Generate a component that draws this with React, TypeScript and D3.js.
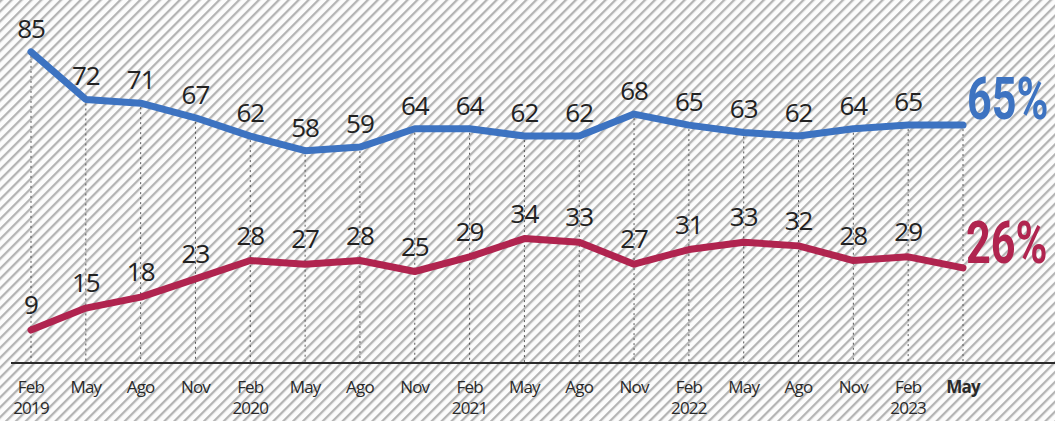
import React from "react";
import * as d3 from "d3";

const months = ["Feb","May","Ago","Nov","Feb","May","Ago","Nov","Feb","May","Ago","Nov","Feb","May","Ago","Nov","Feb","May"];
const years = ["2019","","","","2020","","","","2021","","","","2022","","","","2023",""];
const blueValues = [85,72,71,67,62,58,59,64,64,62,62,68,65,63,62,64,65,65];
const redValues = [9,15,18,23,28,27,28,25,29,34,33,27,31,33,32,28,29,26];
const blueEnd = "65%";
const redEnd = "26%";

const W = 1055, H = 421;
const BLUE = "#3d73c1";
const RED = "#b0244f";

export default function App() {
  const x = d3.scalePoint<number>().domain(d3.range(months.length)).range([31, 963]);
  const y = d3.scaleLinear().domain([0, 100]).range([363, -3]);
  const line = d3.line<number>().x((_, i) => x(i)!).y(d => y(d)).curve(d3.curveLinear);
  const idx = d3.range(months.length);
  const last = months.length - 1;
  return (
    <svg width={W} height={H} style={{ position: "absolute", left: 0, top: 0, display: "block" }}>
      <defs>
        <pattern id="hatch" width="7" height="7" patternUnits="userSpaceOnUse" patternTransform="rotate(45)">
          <rect width="7" height="7" fill="#fcfcfc" />
          <rect x="0" y="0" width="2.3" height="7" fill="#b4b4b4" />
        </pattern>
      </defs>
      <rect width={W} height={H} fill="url(#hatch)" />
      {idx.map(i => (
        <line key={"g" + i} x1={x(i)} x2={x(i)} y1={y(blueValues[i]) + 4} y2={y(0)}
          stroke="#555" strokeWidth={1} strokeDasharray="2,3" />
      ))}
      <line x1={11} x2={W} y1={y(0)} y2={y(0)} stroke="#2a2a2a" strokeWidth={2.2} />
      <path d={line(blueValues)!} fill="none" stroke={BLUE} strokeWidth={7} strokeLinejoin="round" strokeLinecap="round" />
      <path d={line(redValues)!} fill="none" stroke={RED} strokeWidth={7} strokeLinejoin="round" strokeLinecap="round" />
      <g fontFamily="'Open Sans', 'Noto Sans', sans-serif" fontSize={26} fill="#222" textAnchor="middle" letterSpacing={-1}>
        {idx.slice(0, last).map(i => (
          <text key={"bl" + i} x={x(i)} y={y(blueValues[i]) - 14}>{blueValues[i]}</text>
        ))}
        {idx.slice(0, last).map(i => (
          <text key={"rl" + i} x={x(i)} y={y(redValues[i]) - 16}>{redValues[i]}</text>
        ))}
      </g>
      <g fontFamily="'Roboto', 'DejaVu Sans Condensed', sans-serif" fontWeight={700} fontSize={60}>
        <text transform="translate(967,119) scale(0.72,1)" fill={BLUE}>{blueEnd}</text>
        <text transform="translate(966,263) scale(0.72,1)" fill={RED}>{redEnd}</text>
      </g>
      <g fontFamily="'Open Sans', 'Noto Sans', sans-serif" fontSize={17} fill="#2a2a2a" textAnchor="middle" letterSpacing={-0.8}>
        {idx.map(i => (
          <text key={"m" + i} x={x(i)} y={393} fontWeight={i === last ? 700 : 400}>{months[i]}</text>
        ))}
        {idx.map(i => years[i] ? (
          <text key={"y" + i} x={x(i)} y={414}>{years[i]}</text>
        ) : null)}
      </g>
    </svg>
  );
}
